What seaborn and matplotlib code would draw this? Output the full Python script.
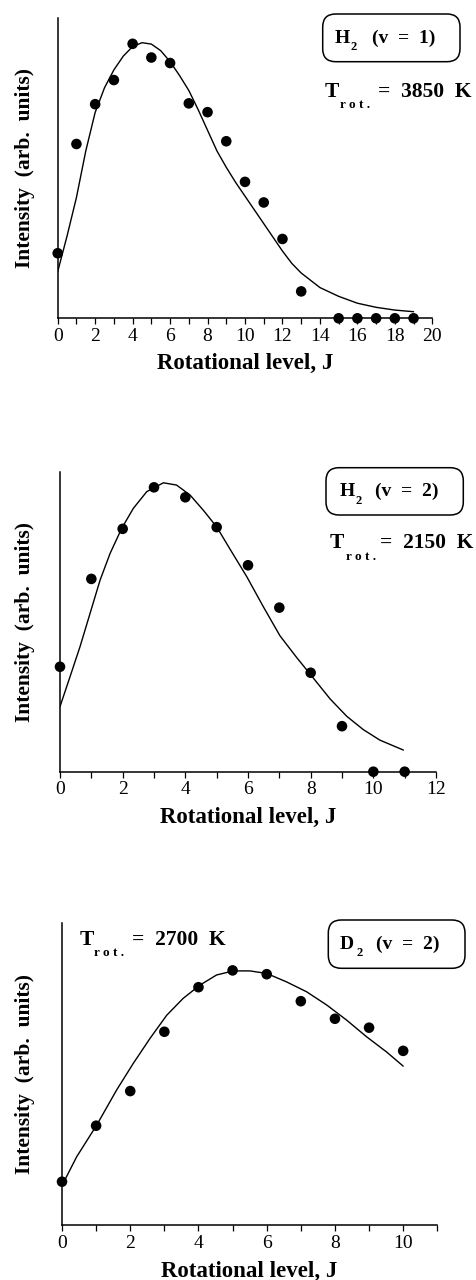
import matplotlib
matplotlib.use("Agg")
import matplotlib.pyplot as plt
from matplotlib.patches import FancyBboxPatch
from matplotlib.ticker import MultipleLocator
import seaborn as sns

# ---- H2 (v = 1): measured line intensities and Boltzmann fit (T_rot = 3850 K)
j_h2_v1 = [0, 1, 2, 3, 4, 5, 6, 7, 8, 9, 10, 11, 12, 13, 15, 16, 17, 18, 19]
i_h2_v1 = [0.237, 0.635, 0.780, 0.868, 1.000, 0.950, 0.930, 0.783, 0.751, 0.645,
           0.497, 0.422, 0.289, 0.098, 0.0, 0.0, 0.0, 0.0, 0.0]
fit_j_h2_v1 = [0, 0.5, 1, 1.5, 2, 2.5, 3, 3.5, 4, 4.5, 5, 5.5, 6, 6.5, 7, 7.5, 8,
               8.5, 9, 9.5, 10, 10.5, 11, 11.5, 12, 12.5, 13, 14, 15, 16, 17, 18, 19]
fit_i_h2_v1 = [0.170, 0.30, 0.44, 0.61, 0.75, 0.84, 0.905, 0.955, 0.99, 1.004, 0.999,
               0.975, 0.935, 0.885, 0.83, 0.76, 0.685, 0.61, 0.55, 0.495, 0.445,
               0.395, 0.345, 0.295, 0.245, 0.20, 0.165, 0.112, 0.08, 0.055, 0.040,
               0.030, 0.024]

# ---- H2 (v = 2): T_rot = 2150 K
j_h2_v2 = [0, 1, 2, 3, 4, 5, 6, 7, 8, 9, 10, 11]
i_h2_v2 = [0.369, 0.678, 0.854, 1.000, 0.965, 0.860, 0.726, 0.577, 0.348, 0.160, 0.0, 0.0]
fit_j_h2_v2 = [0, 0.32, 0.64, 0.96, 1.28, 1.60, 1.97, 2.34, 2.77, 3.30, 3.72, 4.15,
               4.57, 5.0, 5.43, 5.96, 6.49, 7.02, 7.55, 8.08, 8.62, 9.15, 9.68,
               10.21, 10.96]
fit_i_h2_v2 = [0.229, 0.334, 0.440, 0.557, 0.674, 0.768, 0.856, 0.926, 0.985, 1.016,
               1.008, 0.973, 0.920, 0.861, 0.782, 0.686, 0.580, 0.478, 0.402, 0.330,
               0.256, 0.195, 0.148, 0.111, 0.076]

# ---- D2 (v = 2): T_rot = 2700 K
j_d2_v2 = [0, 1, 2, 3, 4, 5, 6, 7, 8, 9, 10]
i_d2_v2 = [0.170, 0.390, 0.526, 0.759, 0.934, 1.000, 0.985, 0.879, 0.810, 0.775, 0.684]
fit_j_d2_v2 = [0, 0.43, 1.02, 1.60, 2.09, 2.58, 3.07, 3.55, 4.04, 4.53, 5.02, 5.51,
               6.0, 6.58, 7.17, 7.76, 8.34, 8.93, 9.51, 10.0]
fit_i_d2_v2 = [0.155, 0.268, 0.393, 0.530, 0.635, 0.733, 0.824, 0.890, 0.942, 0.982,
               0.998, 0.998, 0.988, 0.955, 0.916, 0.864, 0.805, 0.739, 0.680, 0.624]

species = [("H", "2", "(v  =  1)"), ("H", "2", "(v  =  2)"), ("D", "2", "(v  =  2)")]
temps = ["=  3850  K", "=  2150  K", "=  2700  K"]
xlabel = "Rotational level, J"
ylabel = "Intensity  (arb.  units)"

sns.set_style("ticks")
plt.rcParams["font.family"] = ["Liberation Serif", "DejaVu Serif"]
plt.rcParams["text.color"] = "black"
plt.rcParams["axes.edgecolor"] = "black"
plt.rcParams["xtick.color"] = "black"

W, H = 476, 1280
fig = plt.figure(figsize=(W / 100, H / 100), dpi=100)


def add_axes_px(left, top, right, bottom):
    return fig.add_axes([left / W, 1 - bottom / H, (right - left) / W, (bottom - top) / H])


def put(x, y, s, size, **kw):
    fig.text(x / 100, (H - y) / 100, s, transform=fig.dpi_scale_trans,
             fontsize=size, fontweight="bold", va="baseline", ha="left", **kw)


def box(x0, y0, x1, y1):
    p = FancyBboxPatch((x0 / 100, (H - y1) / 100), (x1 - x0) / 100, (y1 - y0) / 100,
                       boxstyle="round,pad=0,rounding_size=0.13",
                       transform=fig.dpi_scale_trans, fill=False, lw=1.1, ec="black")
    fig.add_artist(p)


panels = [
    dict(j=j_h2_v1, i=i_h2_v1, fj=fit_j_h2_v1, fi=fit_i_h2_v1, xmax=20,
         rect=(57.7, 18, 432.3, 318.3), ytop=1.094, xl_base=369,
         box=(322.7, 14, 460, 61.7), sp=(335, 43.3, 350.5, 50.5, 371.5),
         tr=(325, 96.7, 340, 107.5, 377.5)),
    dict(j=j_h2_v2, i=i_h2_v2, fj=fit_j_h2_v2, fi=fit_i_h2_v2, xmax=12,
         rect=(60, 471.7, 436, 771.7), ytop=1.055, xl_base=823,
         box=(326, 467.7, 463.3, 515), sp=(340, 496, 355.5, 503.5, 375),
         tr=(330, 548.3, 346, 560, 380)),
    dict(j=j_d2_v2, i=i_d2_v2, fj=fit_j_d2_v2, fi=fit_i_d2_v2, xmax=11,
         rect=(62, 923.3, 437.3, 1225), ytop=1.185, xl_base=1277,
         box=(328.3, 920, 465, 968.3), sp=(340, 949.3, 356.5, 956.5, 376),
         tr=(79.3, 945, 94, 955.5, 131.5)),
]

for k, p in enumerate(panels):
    left, top, right, bottom = p["rect"]
    ax = add_axes_px(left, top, right, bottom)
    sns.lineplot(x=p["fj"], y=p["fi"], ax=ax, color="black", lw=1.0,
                 sort=False, estimator=None)
    sns.scatterplot(x=p["j"], y=p["i"], ax=ax, color="black", s=58,
                    edgecolor="none", clip_on=False, zorder=5)
    ax.set_xlim(0, p["xmax"])
    ax.set_ylim(0, p["ytop"])
    ax.set_yticks([])
    ax.xaxis.set_major_locator(MultipleLocator(2))
    ax.xaxis.set_minor_locator(MultipleLocator(1))
    ax.tick_params(axis="x", which="both", direction="out", length=4.5, width=0.9,
                   pad=2.5, labelsize=14)
    for lab in ax.get_xticklabels():
        lab.set_fontfamily(["Liberation Serif", "DejaVu Serif"])
    sns.despine(ax=ax)
    for side in ("left", "bottom"):
        ax.spines[side].set_linewidth(1.1)
    ax.set_facecolor("white")

    # axis titles
    cx = (left + right) / 2
    fig.text(cx / W, 1 - p["xl_base"] / H, xlabel, ha="center", va="baseline",
             fontsize=16.5, fontweight="bold")
    fig.text(25 / W, 1 - ((top + bottom) / 2) / H, ylabel, ha="center", va="center",
             rotation=90, fontsize=15.5, fontweight="bold")

    # species box
    box(*p["box"])
    main, sub, rest = species[k]
    x0, yb, xs, ys, xr = p["sp"]
    put(x0, yb, main, 14)
    put(xs, ys, sub, 9)
    put(xr, yb, rest, 14)

    # rotational temperature
    tx, tyb, sx, syb, rx = p["tr"]
    put(tx, tyb, "T", 15.5)
    put(sx, syb, "r o t .", 9.5)
    put(rx, tyb, temps[k], 15.5)

fig.savefig("out.png", dpi=100, facecolor="white")
